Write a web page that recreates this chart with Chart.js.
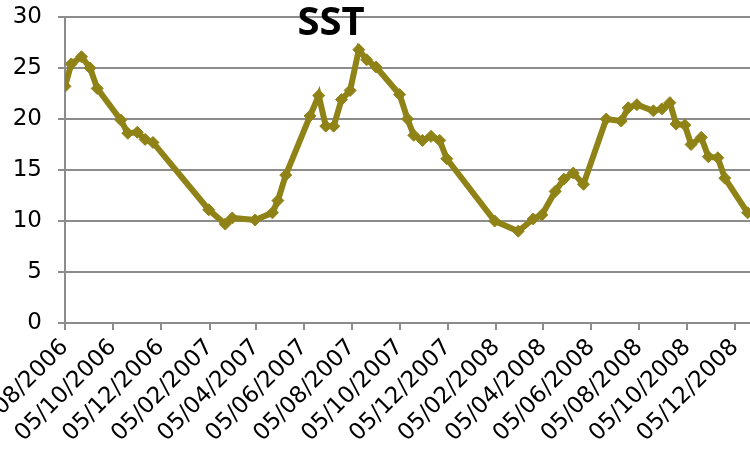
<!DOCTYPE html>
<html>
<head>
<meta charset="utf-8">
<script src="https://cdn.jsdelivr.net/npm/chart.js@4"></script>
<style>
  html, body { margin: 0; padding: 0; background: #fff; }
  #wrap { width: 750px; height: 475px; position: relative; }
</style>
</head>
<body>
<div id="wrap"><canvas id="sstChart"></canvas></div>
<script>
var dates = ['05/08/2006','13/08/2006','26/08/2006','06/09/2006','15/09/2006','15/10/2006','24/10/2006','05/11/2006','15/11/2006','25/11/2006',
    '04/02/2007','25/02/2007','06/03/2007','04/04/2007','26/04/2007','03/05/2007','13/05/2007','13/06/2007','24/06/2007','03/07/2007',
    '13/07/2007','23/07/2007','03/08/2007','14/08/2007','24/08/2007','05/09/2007','05/10/2007','15/10/2007','23/10/2007','03/11/2007',
    '14/11/2007','25/11/2007','04/12/2007','03/02/2008','04/03/2008','23/03/2008','03/04/2008','20/04/2008','01/05/2008','13/05/2008',
    '26/05/2008','24/06/2008','13/07/2008','22/07/2008','02/08/2008','23/08/2008','03/09/2008','13/09/2008','21/09/2008','02/10/2008',
    '10/10/2008','23/10/2008','01/11/2008','13/11/2008','22/11/2008','21/12/2008'];
var sst = [23.2,25.4,26.1,25.0,23.0,19.9,18.6,18.7,18.0,17.7,
    11.1,9.7,10.3,10.1,10.8,12.0,14.5,20.3,22.3,19.3,
    19.3,21.9,22.8,26.8,25.8,25.1,22.4,20.0,18.4,17.9,
    18.3,17.9,16.1,10.0,9.0,10.2,10.6,12.9,14.1,14.7,
    13.6,20.0,19.8,21.1,21.4,20.8,21.0,21.6,19.5,19.4,
    17.5,18.2,16.3,16.2,14.2,10.8];
var tickLabels = ['05/08/2006','05/10/2006','05/12/2006','05/02/2007','05/04/2007','05/06/2007','05/08/2007','05/10/2007',
    '05/12/2007','05/02/2008','05/04/2008','05/06/2008','05/08/2008','05/10/2008','05/12/2008'];
var axisEnd = '24/12/2008';

// dd/mm/yyyy -> day number
function toDay(s) {
    var p = s.split('/');
    return Date.UTC(+p[2], +p[1] - 1, +p[0]) / 86400000;
}
function fromDay(v) {
    var d = new Date(Math.round(v) * 86400000);
    var dd = String(d.getUTCDate()).padStart(2, '0');
    var mm = String(d.getUTCMonth() + 1).padStart(2, '0');
    return dd + '/' + mm + '/' + d.getUTCFullYear();
}

var points = dates.map(function (d, i) { return { x: toDay(d), y: sst[i] }; });
var tickDays = tickLabels.map(toDay);
var gridColor = '#8c8c8c';
var olive = '#8f8217';

const titlePlugin = {
    id: 'sstTitle',
    afterDraw: function (chart) {
        const ctx = chart.ctx;
        ctx.save();
        ctx.font = 'bold 40px "Open Sans"';
        ctx.fillStyle = '#000';
        ctx.textAlign = 'center';
        ctx.textBaseline = 'middle';
        ctx.fillText('SST', 331, 24);
        ctx.restore();
    }
};

const ctx = document.getElementById('sstChart').getContext('2d');
var lineChart_sst = new Chart(ctx, {
    type: 'line',
    data: {
        datasets: [
            {
                label: 'SST',
                data: points,
                borderColor: olive,
                backgroundColor: olive,
                borderWidth: 6,
                pointStyle: 'rectRot',
                pointRadius: 6,
                pointBorderWidth: 1,
                pointBackgroundColor: olive,
                pointBorderColor: olive,
                lineTension: 0,
                fill: false
            }
        ]
    },
    options: {
        responsive: true,
        maintainAspectRatio: false,
        animation: false,
        layout: {
            autoPadding: false,
            padding: { left: 0, right: 0, top: 17, bottom: 0 }
        },
        plugins: {
            legend: { display: false },
            title: { display: false },
            tooltip: { enabled: false }
        },
        scales: {
            x: {
                type: 'linear',
                min: tickDays[0],
                max: toDay(axisEnd),
                afterBuildTicks: function (scale) {
                    scale.ticks = tickDays.map(function (v) { return { value: v }; });
                },
                afterFit: function (scale) {
                    scale.paddingLeft = 0;
                    scale.paddingRight = 0;
                    scale.height = 152;
                },
                grid: {
                    drawOnChartArea: false,
                    drawTicks: true,
                    tickLength: 7,
                    color: gridColor,
                    lineWidth: 2
                },
                border: { display: true, color: gridColor, width: 2 },
                ticks: {
                    autoSkip: false,
                    minRotation: 45,
                    maxRotation: 45,
                    padding: 4,
                    color: '#000',
                    font: { family: 'DejaVu Sans', size: 23 },
                    callback: function (value) { return fromDay(value); }
                }
            },
            y: {
                min: 0,
                max: 30,
                afterFit: function (scale) {
                    scale.width = 65;
                    scale.paddingTop = 0;
                    scale.paddingBottom = 0;
                },
                ticks: {
                    stepSize: 5,
                    padding: 16,
                    color: '#000',
                    font: { family: 'DejaVu Sans', size: 23 }
                },
                grid: {
                    color: gridColor,
                    lineWidth: 2,
                    tickLength: 7
                },
                border: { display: true, color: gridColor, width: 2 }
            }
        }
    },
    plugins: [titlePlugin]
});
</script>
</body>
</html>
